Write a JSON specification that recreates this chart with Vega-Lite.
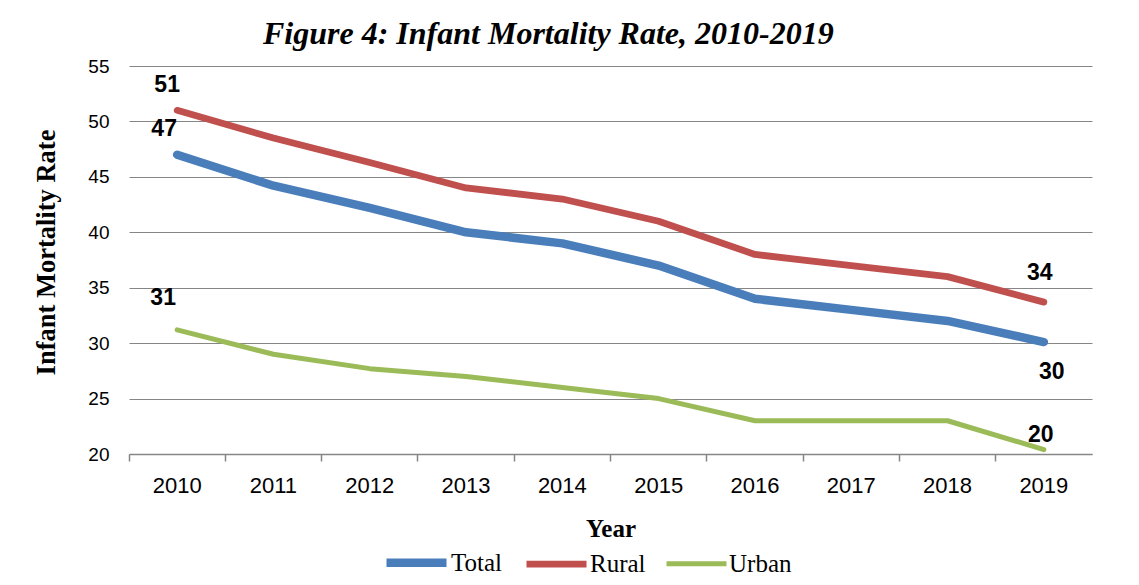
{
  "$schema": "https://vega.github.io/schema/vega-lite/v6.json",
  "autosize": "none",
  "width": 963,
  "height": 388,
  "padding": {"left": 129, "top": 66, "right": 47, "bottom": 131},
  "background": "white",
  "title": {
    "text": "Figure 4: Infant Mortality Rate, 2010-2019",
    "font": "Liberation Serif",
    "fontSize": 32,
    "fontWeight": "bold",
    "fontStyle": "italic",
    "color": "black",
    "anchor": "start",
    "dx": 230,
    "offset": 6
  },
  "data": {
    "values": [
      {"year": "2010", "series": "Total", "rate": 47.0},
      {"year": "2011", "series": "Total", "rate": 44.2},
      {"year": "2012", "series": "Total", "rate": 42.2},
      {"year": "2013", "series": "Total", "rate": 40.0},
      {"year": "2014", "series": "Total", "rate": 39.0},
      {"year": "2015", "series": "Total", "rate": 37.0},
      {"year": "2016", "series": "Total", "rate": 34.0},
      {"year": "2017", "series": "Total", "rate": 33.0},
      {"year": "2018", "series": "Total", "rate": 32.0},
      {"year": "2019", "series": "Total", "rate": 30.1},
      {"year": "2010", "series": "Rural", "rate": 51.0},
      {"year": "2011", "series": "Rural", "rate": 48.5},
      {"year": "2012", "series": "Rural", "rate": 46.3},
      {"year": "2013", "series": "Rural", "rate": 44.0},
      {"year": "2014", "series": "Rural", "rate": 43.0},
      {"year": "2015", "series": "Rural", "rate": 41.0},
      {"year": "2016", "series": "Rural", "rate": 38.0},
      {"year": "2017", "series": "Rural", "rate": 37.0},
      {"year": "2018", "series": "Rural", "rate": 36.0},
      {"year": "2019", "series": "Rural", "rate": 33.7},
      {"year": "2010", "series": "Urban", "rate": 31.2},
      {"year": "2011", "series": "Urban", "rate": 29.0},
      {"year": "2012", "series": "Urban", "rate": 27.7},
      {"year": "2013", "series": "Urban", "rate": 27.0},
      {"year": "2014", "series": "Urban", "rate": 26.0},
      {"year": "2015", "series": "Urban", "rate": 25.0},
      {"year": "2016", "series": "Urban", "rate": 23.0},
      {"year": "2017", "series": "Urban", "rate": 23.0},
      {"year": "2018", "series": "Urban", "rate": 23.0},
      {"year": "2019", "series": "Urban", "rate": 20.4}
    ]
  },
  "encoding": {
    "x": {
      "field": "year",
      "type": "ordinal",
      "scale": {"type": "band", "paddingInner": 0, "paddingOuter": 0},
      "axis": {
        "title": "Year",
        "titleFont": "Liberation Serif",
        "titleFontSize": 25,
        "titleFontWeight": "bold",
        "titleColor": "black",
        "titleBaseline": "alphabetic",
        "titleY": 82,
        "labelAngle": 0,
        "labelFont": "Liberation Sans",
        "labelFontSize": 22,
        "labelColor": "black",
        "labelPadding": 14,
        "bandPosition": 0,
        "tickSize": 7,
        "tickColor": "#868686",
        "domainColor": "#868686",
        "domainWidth": 1.5,
        "tickWidth": 1.5,
        "grid": false
      }
    },
    "y": {
      "field": "rate",
      "type": "quantitative",
      "scale": {"domain": [20, 55], "nice": false, "zero": false},
      "axis": {
        "title": "Infant Mortality Rate",
        "titleFont": "Liberation Serif",
        "titleFontSize": 26.5,
        "titleFontWeight": "bold",
        "titleColor": "black",
        "titleAngle": -90,
        "titleAlign": "center",
        "titleBaseline": "alphabetic",
        "titleX": -75,
        "titleY": 186,
        "values": [20, 25, 30, 35, 40, 45, 50, 55],
        "labelFont": "Liberation Sans",
        "labelFontSize": 19,
        "labelColor": "black",
        "labelPadding": 20,
        "ticks": false,
        "domain": false,
        "grid": true,
        "gridColor": "#868686",
        "gridWidth": 1.2
      }
    }
  },
  "layer": [
    {
      "mark": {"type": "line", "strokeCap": "round", "strokeJoin": "round"},
      "encoding": {
        "color": {
          "field": "series",
          "type": "nominal",
          "scale": {"domain": ["Total", "Rural", "Urban"], "range": ["#4A7EBB", "#C0504D", "#9BBB59"]},
          "legend": {
            "title": null,
            "orient": "none",
            "direction": "horizontal",
            "legendX": 253,
            "legendY": 462,
            "symbolType": "stroke",
            "symbolSize": 3600,
            "symbolStrokeWidth": 7,
            "labelFont": "Liberation Serif",
            "labelFontSize": 25,
            "labelColor": "black",
            "labelOffset": 0,
            "columnPadding": 10,
            "labelLimit": 200
          }
        },
        "strokeWidth": {
          "field": "series",
          "type": "ordinal",
          "scale": {"domain": ["Total", "Rural", "Urban"], "range": [8.5, 5, 5]},
          "legend": null
        }
      }
    },
    {
      "transform": [{"filter": "datum.series == 'Rural' && datum.year == '2010'"}],
      "mark": {"type": "text", "font": "Liberation Sans", "fontWeight": "bold", "fontSize": 23, "color": "black", "dx": -10, "dy": -25},
      "encoding": {"text": {"field": "rate", "type": "quantitative", "format": ".0f"}}
    },
    {
      "transform": [{"filter": "datum.series == 'Total' && datum.year == '2010'"}],
      "mark": {"type": "text", "font": "Liberation Sans", "fontWeight": "bold", "fontSize": 23, "color": "black", "dx": -13, "dy": -26},
      "encoding": {"text": {"field": "rate", "type": "quantitative", "format": ".0f"}}
    },
    {
      "transform": [{"filter": "datum.series == 'Urban' && datum.year == '2010'"}],
      "mark": {"type": "text", "font": "Liberation Sans", "fontWeight": "bold", "fontSize": 23, "color": "black", "dx": -14, "dy": -32},
      "encoding": {"text": {"field": "rate", "type": "quantitative", "format": ".0f"}}
    },
    {
      "transform": [{"filter": "datum.series == 'Rural' && datum.year == '2019'"}],
      "mark": {"type": "text", "font": "Liberation Sans", "fontWeight": "bold", "fontSize": 23, "color": "black", "dx": -4, "dy": -29},
      "encoding": {"text": {"field": "rate", "type": "quantitative", "format": ".0f"}}
    },
    {
      "transform": [{"filter": "datum.series == 'Total' && datum.year == '2019'"}],
      "mark": {"type": "text", "font": "Liberation Sans", "fontWeight": "bold", "fontSize": 23, "color": "black", "dx": 8, "dy": 30},
      "encoding": {"text": {"field": "rate", "type": "quantitative", "format": ".0f"}}
    },
    {
      "transform": [{"filter": "datum.series == 'Urban' && datum.year == '2019'"}],
      "mark": {"type": "text", "font": "Liberation Sans", "fontWeight": "bold", "fontSize": 23, "color": "black", "dx": -3, "dy": -15},
      "encoding": {"text": {"field": "rate", "type": "quantitative", "format": ".0f"}}
    }
  ],
  "config": {"view": {"stroke": null}}
}
